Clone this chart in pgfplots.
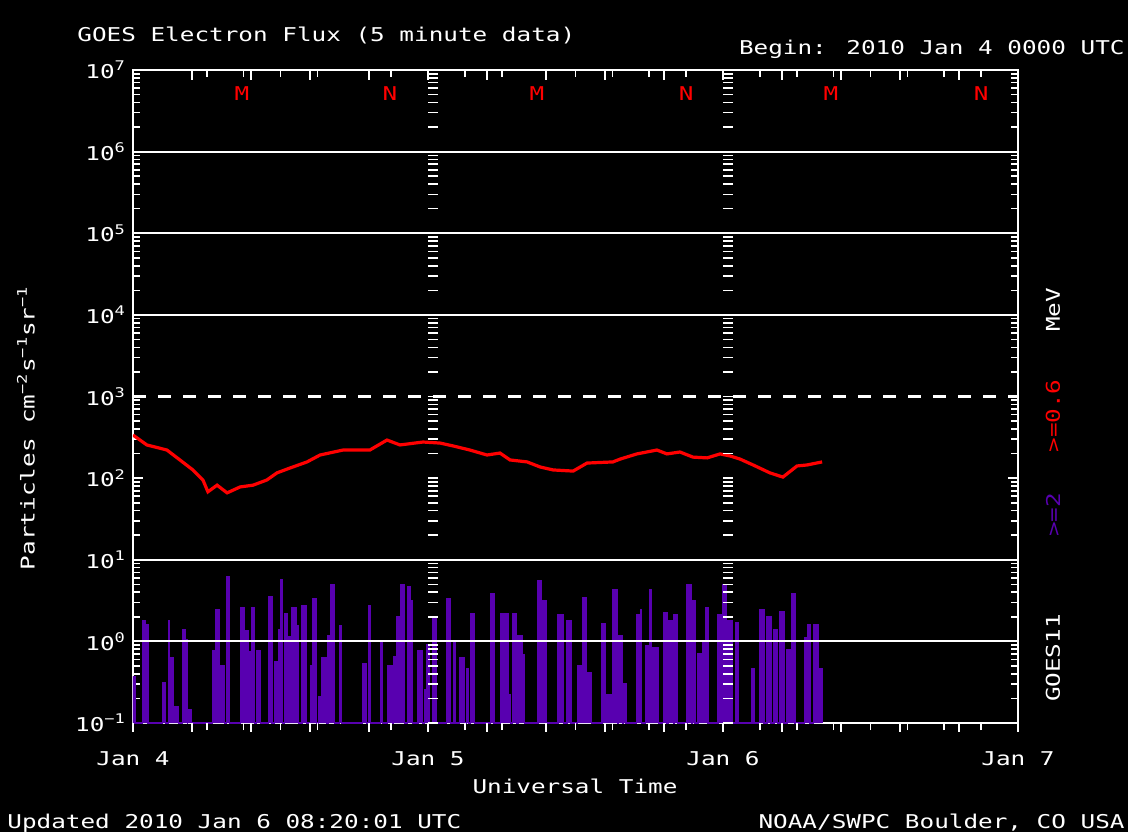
\documentclass[border=0pt]{standalone}
\usepackage{fontspec}
\setmainfont[FakeStretch=1.28]{DejaVu Sans Mono}
\usepackage{pgfplots}
\pgfplotsset{compat=1.18}
\definecolor{goespurple}{RGB}{88,0,176}
\newcommand{\lbl}{\fontsize{9.5}{11}\selectfont}

\begin{document}
\begin{tikzpicture}
\fill[black] (-66.5pt,-54.5pt) rectangle (497.5pt,361.5pt);

% main axis
\begin{axis}[
    at={(0pt,0pt)}, anchor=south west,
    scale only axis, width=442.5pt, height=326.5pt,
    xmin=0, xmax=3,
    ymode=log, ymin=0.1, ymax=1e7,
    axis line style={white, line width=1pt},
    xtick={}, xticklabels={},
    minor xtick={0.25,0.375,0.5,0.625,0.875,1.125,1.25,1.5,1.625,1.75,1.875,2.125,2.25,2.375,2.5,2.625,2.75,2.875},
    xtick pos=right,
    ytick={0.1,1,10,100,1000,1e4,1e5,1e6,1e7},
    yticklabels={10\textsuperscript{−1},10\textsuperscript{0},10\textsuperscript{1},10\textsuperscript{2},10\textsuperscript{3},10\textsuperscript{4},10\textsuperscript{5},10\textsuperscript{6},10\textsuperscript{7}},
    ytick pos=both,
    yticklabel style={white, font=\lbl},
    tick align=inside,
    tick style={white, line width=0.8pt},
    major tick length=5pt, minor tick length=3.5pt,
    clip=true,
]

% >=2 MeV electrons (purple spikes above the 0.1 floor)
\addplot[const plot, fill=goespurple, draw=goespurple, line width=0.6pt] coordinates {
(0,0.1)(0,0.37)(0.007,0.1)
(0.031,1.8)(0.042,1.6)(0.051,0.1)
(0.099,0.31)(0.111,0.1)
(0.119,1.8)(0.124,0.63)(0.138,0.16)(0.153,0.1)
(0.167,1.4)(0.177,1.05)(0.184,0.1)
(0.186,0.145)(0.198,0.1)
(0.269,0.78)(0.280,2.45)(0.294,0.5)(0.311,0.1)
(0.316,6.2)(0.328,0.1)
(0.364,2.6)(0.376,1.36)(0.390,0.75)(0.403,2.6)(0.412,0.1)
(0.418,0.78)(0.432,0.1)
(0.458,3.5)(0.471,0.1)
(0.480,0.57)(0.492,1.4)(0.500,5.7)(0.506,0.1)
(0.514,2.2)(0.525,1.15)(0.539,2.6)(0.554,1.57)(0.561,0.1)
(0.573,2.75)(0.588,0.1)
(0.601,0.5)(0.608,3.3)(0.621,0.1)
(0.629,0.21)(0.641,0.63)(0.655,0.1)
(0.661,1.18)(0.670,5.0)(0.684,0.1)
(0.700,1.57)(0.708,0.1)
(0.777,0.54)(0.792,0.1)
(0.797,2.75)(0.804,0.1)
(0.839,1.0)(0.847,0.1)
(0.864,0.5)(0.878,0.1)
(0.884,0.66)(0.892,2.0)(0.907,5.0)(0.919,0.1)
(0.930,4.7)(0.940,3.2)(0.947,0.1)
(0.966,0.78)(0.980,0.1)
(0.989,0.26)(0.995,0.91)(1.006,0.1)
(1.014,1.9)(1.028,0.1)
(1.062,3.3)(1.077,0.1)
(1.088,1.0)(1.094,0.1)
(1.107,0.63)(1.124,0.1)
(1.130,0.46)(1.136,0.1)
(1.145,2.2)(1.158,0.1)
(1.211,3.85)(1.224,0.1)
(1.245,2.2)(1.271,0.22)(1.279,0.1)
(1.286,2.2)(1.299,0.1)
(1.305,1.18)(1.319,0.69)(1.328,0.1)
(1.373,5.5)(1.386,3.2)(1.401,0.1)
(1.441,2.1)(1.458,0.1)
(1.471,1.8)(1.485,0.1)
(1.508,0.5)(1.525,3.4)(1.536,0.41)(1.553,0.1)
(1.590,1.65)(1.603,0.22)(1.627,4.3)(1.641,0.1)
(1.644,1.18)(1.658,0.1)
(1.664,0.30)(1.671,0.1)
(1.708,2.1)(1.719,2.45)(1.725,0.1)
(1.736,0.88)(1.751,4.3)(1.756,0.85)(1.780,0.1)
(1.797,2.25)(1.810,0.1)
(1.814,1.8)(1.831,0.1)
(1.834,2.1)(1.847,0.1)
(1.878,5.0)(1.892,0.1)
(1.895,3.2)(1.905,0.1)
(1.915,0.7)(1.932,1.0)(1.942,2.6)(1.949,0.1)
(1.983,2.1)(1.997,0.1)
(2.000,5.0)(2.010,0.1)
(2.017,1.8)(2.031,0.1)
(2.044,1.7)(2.051,0.1)
(2.098,0.46)(2.105,0.1)
(2.125,2.45)(2.139,0.1)
(2.149,2.0)(2.163,0.1)
(2.173,1.4)(2.186,0.1)
(2.193,2.3)(2.207,0.1)
(2.217,0.8)(2.231,3.85)(2.244,0.1)
(2.275,1.1)(2.288,1.6)(2.295,0.1)
(2.308,1.6)(2.322,0.46)(2.336,0.46)(2.336,0.1)
};

% >=0.6 MeV electrons
\addplot[red, line width=1.6pt] coordinates {
(0,337)(0.047,255)(0.115,221)(0.159,167)(0.203,126)(0.237,95)(0.254,68)
(0.285,82)(0.319,66)(0.363,78)(0.407,82)(0.454,95)(0.488,116)(0.532,133)
(0.590,158)(0.634,192)(0.712,221)(0.803,221)(0.861,293)(0.905,255)(0.983,277)
(1.041,269)(1.085,248)(1.142,221)(1.200,192)(1.244,203)(1.278,167)(1.336,158)
(1.380,137)(1.424,126)(1.492,122)(1.539,153)(1.627,158)(1.651,171)(1.708,198)
(1.776,221)(1.810,198)(1.854,209)(1.898,181)(1.946,177)(1.990,198)(2.024,187)
(2.058,171)(2.102,145)(2.159,116)(2.203,103)(2.251,141)(2.285,145)(2.336,158)
};

% horizontal reference lines
\draw[white, line width=1.1pt] (axis cs:0,1e6) -- (axis cs:3,1e6);
\draw[white, line width=1.1pt] (axis cs:0,1e5) -- (axis cs:3,1e5);
\draw[white, line width=1.1pt] (axis cs:0,1e4) -- (axis cs:3,1e4);
\draw[white, line width=1.1pt, dash pattern=on 6.3pt off 6.2pt] (axis cs:0,1e3) -- (axis cs:3,1e3);
\draw[white, line width=1.1pt] (axis cs:0,10) -- (axis cs:3,10);
\draw[white, line width=1.1pt] (axis cs:0,1) -- (axis cs:3,1);

% local noon / midnight markers
\foreach \p/\t in {0.369/M,0.871/N,1.369/M,1.875/N,2.366/M,2.875/N}{
  \edef\tmp{\noexpand\node[red, font=\noexpand\lbl] at (axis cs:\p,1e7) [yshift=-12pt] {\t};}\tmp
}
\end{axis}

% bottom x ticks (outward)
\begin{axis}[
    at={(0pt,0pt)}, anchor=south west,
    scale only axis, width=442.5pt, height=326.5pt,
    xmin=0, xmax=3, ymin=0, ymax=1,
    hide y axis, x axis line style={draw=none},
    xtick={}, xticklabels={},
    minor xtick={0.25,0.375,0.5,0.625,0.875,1.125,1.25,1.5,1.625,1.75,1.875,2.125,2.25,2.375,2.5,2.625,2.75,2.875},
    xtick pos=left, tick align=outside,
    tick style={white, line width=0.8pt}, minor tick length=3.5pt,
]
\end{axis}

% day-boundary tick columns
\begin{axis}[
    at={(147.5pt,0pt)}, anchor=south west,
    scale only axis, width=20pt, height=326.5pt,
    xmin=0, xmax=1, ymode=log, ymin=0.1, ymax=1e7,
    hide x axis, y axis line style={draw=none},
    ytick={0.1,1,10,100,1000,1e4,1e5,1e6,1e7}, yticklabels={},
    ytick pos=left, tick align=inside,
    tick style={white, line width=0.8pt},
    major tick length=5pt, minor tick length=5pt,
]
\end{axis}
\begin{axis}[
    at={(295pt,0pt)}, anchor=south west,
    scale only axis, width=20pt, height=326.5pt,
    xmin=0, xmax=1, ymode=log, ymin=0.1, ymax=1e7,
    hide x axis, y axis line style={draw=none},
    ytick={0.1,1,10,100,1000,1e4,1e5,1e6,1e7}, yticklabels={},
    ytick pos=left, tick align=inside,
    tick style={white, line width=0.8pt},
    major tick length=5pt, minor tick length=5pt,
]
\end{axis}

% texts
\begin{scope}[every node/.style={white, font=\lbl, inner sep=0pt}]
\node[anchor=base west] at (-28pt,340.5pt) {GOES Electron Flux (5 minute data)};
\node[anchor=base east] at (496pt,334pt) {Begin: 2010 Jan 4 0000 UTC};
\node[anchor=base] at (0pt,-21pt) {Jan 4};
\node[anchor=base] at (147.5pt,-21pt) {Jan 5};
\node[anchor=base] at (295pt,-21pt) {Jan 6};
\node[anchor=base] at (442.5pt,-21pt) {Jan 7};
\node[anchor=base] at (221pt,-35pt) {Universal Time};
\node[anchor=base west] at (-63pt,-52.5pt) {Updated 2010 Jan  6 08:20:01 UTC};
\node[anchor=base east] at (496pt,-52.5pt) {NOAA/SWPC Boulder, CO USA};
\node[rotate=90] at (-53.5pt,147.5pt) {Particles cm\textsuperscript{−2}s\textsuperscript{−1}sr\textsuperscript{−1}};
\node[rotate=90] at (460pt,32.5pt) {GOES11};
\node[rotate=90, text=goespurple] at (460pt,104pt) {>=2};
\node[rotate=90, text=red] at (460pt,153.5pt) {>=0.6};
\node[rotate=90] at (460pt,206.5pt) {MeV};
\end{scope}

\pgfresetboundingbox
\useasboundingbox (-66.5pt,-54.5pt) rectangle (497.5pt,361.5pt);
\end{tikzpicture}
\end{document}
